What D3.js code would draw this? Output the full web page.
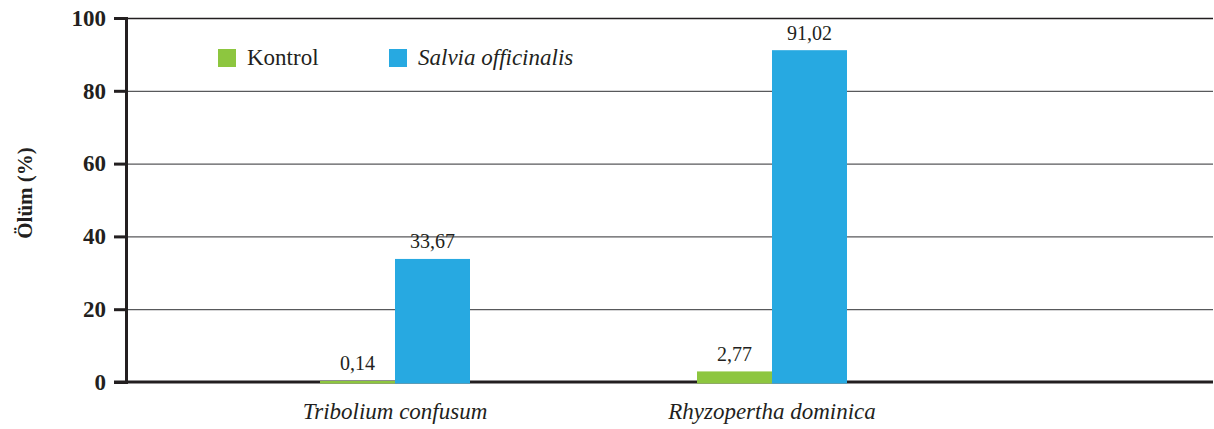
<!DOCTYPE html>
<html lang="tr">
<head>
<meta charset="utf-8">
<title>Ölüm (%)</title>
<script src="https://d3js.org/d3.v7.min.js"></script>
<style>
    body { margin: 0; background: #fff; }
    svg text { font-family: "Liberation Serif", "DejaVu Serif", serif; fill: #231f20; }
</style>
</head>
<body>
<div class="chart"></div>
<script>
    // data
    var species = ["Tribolium confusum", "Rhyzopertha dominica"];
    var seriesNames = ["Kontrol", "Salvia officinalis"];
    var kontrol = [0.14, 2.77];
    var salvia = [33.67, 91.02];
    var yTicks = [0, 20, 40, 60, 80, 100];
    var colors = ["#8dc63f", "#27a9e1"];

    var width = 1214, height = 429;
    var plotLeft = 126, plotRight = 1213, plotTop = 18, plotBottom = 382;

    var svg = d3.select("div.chart").append("svg")
        .attr("width", width)
        .attr("height", height);

    var y = d3.scaleLinear().domain([0, 100]).range([plotBottom, plotTop]);

    // two groups, centres ~377px apart
    var x = d3.scaleBand().domain(species).range([206.5, 960.5]);
    var xs = d3.scaleBand().domain(seriesNames)
        .range([x.bandwidth() / 2 - 75, x.bandwidth() / 2 + 75]);

    // gridlines
    svg.append("g")
        .selectAll("line")
        .data(yTicks.filter(function(d) { return d > 0; }))
        .enter().append("line")
        .attr("x1", plotLeft).attr("x2", plotRight)
        .attr("y1", function(d) { return y(d) + 0.5; })
        .attr("y2", function(d) { return y(d) + 0.5; })
        .attr("stroke", function(d) { return d == 100 ? "#231f20" : "#58595b"; })
        .attr("stroke-width", 1.3);

    // y axis
    var yAxis = svg.append("g")
        .attr("transform", "translate(" + plotLeft + ",0)")
        .call(d3.axisLeft(y).tickValues(yTicks).tickSize(12).tickPadding(8));
    yAxis.select(".domain").attr("stroke", "#231f20").attr("stroke-width", 3);
    yAxis.selectAll(".tick line").attr("stroke", "#231f20").attr("stroke-width", 3);
    yAxis.selectAll(".tick text")
        .style("font-size", "23px").style("font-weight", "bold")
        .attr("fill", "#231f20");

    // x axis
    var xAxis = svg.append("g")
        .attr("transform", "translate(0," + plotBottom + ")");
    xAxis.append("line")
        .attr("x1", plotLeft - 12).attr("x2", plotRight)
        .attr("stroke", "#231f20").attr("stroke-width", 3);
    xAxis.selectAll("text")
        .data(species)
        .enter().append("text")
        .attr("x", function(d) { return x(d) + x.bandwidth() / 2; })
        .attr("y", 37)
        .attr("text-anchor", "middle")
        .style("font-size", "23px")
        .style("font-style", "italic")
        .text(function(d) { return d; });

    // bars (drawn over the baseline, like the original)
    var rows = species.map(function(s, i) {
        return [{ sp: s, k: seriesNames[0], v: kontrol[i] }, { sp: s, k: seriesNames[1], v: salvia[i] }];
    });

    var groups = svg.append("g").selectAll("g")
        .data(rows)
        .enter().append("g")
        .attr("transform", function(d) { return "translate(" + x(d[0].sp) + ",0)"; });

    groups.selectAll("rect")
        .data(function(d) { return d; })
        .enter().append("rect")
        .attr("x", function(d) { return xs(d.k); })
        .attr("width", xs.bandwidth())
        .attr("y", function(d) { return y(d.v) - 0.5; })
        .attr("height", function(d) { return plotBottom - y(d.v) + 2; })
        .attr("fill", function(d, i) { return colors[i]; });

    groups.selectAll("text")
        .data(function(d) { return d; })
        .enter().append("text")
        .attr("x", function(d) { return xs(d.k) + xs.bandwidth() / 2; })
        .attr("y", function(d) { return y(d.v) - 11; })
        .attr("text-anchor", "middle")
        .style("font-size", "20px")
        .text(function(d) { return d3.format(".2f")(d.v).replace(".", ","); });

    // y title
    svg.append("text")
        .attr("transform", "translate(32,193) rotate(-90)")
        .attr("text-anchor", "middle")
        .style("font-size", "21px")
        .style("font-weight", "bold")
        .text("Ölüm (%)");

    // legend
    var legendX = [218, 389];
    var legend = svg.append("g").selectAll("g")
        .data(seriesNames)
        .enter().append("g")
        .attr("transform", function(d, i) { return "translate(" + legendX[i] + ",49)"; });
    legend.append("rect")
        .attr("width", 18).attr("height", 18)
        .attr("fill", function(d, i) { return colors[i]; });
    legend.append("text")
        .attr("x", 29).attr("y", 16)
        .style("font-size", "23px")
        .style("font-style", function(d, i) { return i == 1 ? "italic" : "normal"; })
        .text(function(d) { return d; });
</script>
</body>
</html>
